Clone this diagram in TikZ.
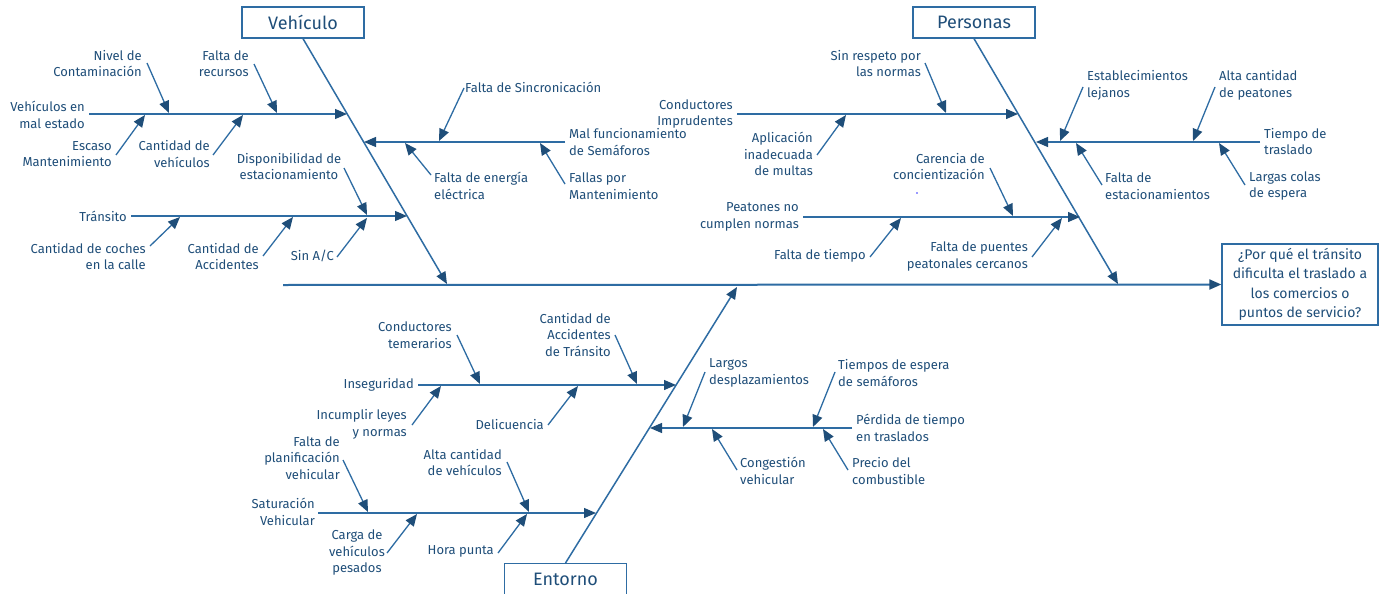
\documentclass[tikz,border=0pt]{standalone}
\usepackage{fontspec}
\setmainfont{Fira Sans}
\usetikzlibrary{arrows.meta}
\definecolor{txt}{RGB}{31,78,121}
\definecolor{ln}{RGB}{46,108,163}
\newcommand\subarrow[3]{\coordinate (#1s) at (#2); \coordinate (#1e) at (#3); \draw[arr] (#1s) -- (#1e);}
\begin{document}
\begin{tikzpicture}[x=1pt,y=-1pt,
  lbl/.style={font=\fontsize{13}{16.5}\selectfont, text=txt, inner sep=0pt},
  lblr/.style={lbl, align=right, anchor=east},
  lbll/.style={lbl, align=left, anchor=west},
  lblc/.style={lbl, align=center},
  cat/.style={draw=ln, line width=1.3pt, fill=white, text=txt, font=\fontsize{18}{22}\selectfont, minimum width=122pt, minimum height=31pt, inner sep=0pt},
  tip/.style={-{Triangle[length=12pt,width=10pt,color=txt]}},
  arr/.style={draw=ln, line width=1.3pt, tip},
  bone/.style={draw=ln, line width=1.5pt, tip},
]
\useasboundingbox (0,0) rectangle (1389,594);
\fill[white] (0,0) rectangle (1389,594);

% effect box
\node[draw=ln, line width=1.3pt, text=txt, font=\fontsize{14}{19.3}\selectfont, align=center, minimum width=156pt, minimum height=81pt, inner sep=0pt] (q) at (1300,284.5) {¿Por qué el tránsito\\dificulta el traslado a\\los comercios o\\puntos de servicio?};

% spine
\coordinate (sp0) at (283,285);
\draw[bone, line width=2pt] (sp0) -- (q.west);

% categories
\node[cat] (veh) at (303,22.5) {Vehículo};
\node[cat] (per) at (974,22.5) {Personas};
\node[cat, minimum height=34pt, anchor=north] (ent) at (565.5,563) {\raisebox{3pt}{Entorno}};

\coordinate (vb) at (447,284);
\coordinate (pb) at (1118,284);
\coordinate (eb) at (737,287);
\draw[bone] (veh.south) -- (vb);
\draw[bone] (per.south) -- (pb);
\draw[bone] (ent.north) -- (eb);

% ---------- Vehículo ----------
\coordinate (h1s) at (89,114);  \coordinate (h1e) at (347,114);
\coordinate (h2s) at (565,142); \coordinate (h2e) at (364,142);
\coordinate (h3s) at (131,216); \coordinate (h3e) at (407,216);
\draw[arr] (h1s) -- (h1e);
\draw[arr] (h2s) -- (h2e);
\draw[arr] (h3s) -- (h3e);

\node[lblr] (l1) at (85,115) {Vehículos en\\mal estado};
\node[lblr] (l2) at (142,63.5) {Nivel de\\Contaminación};
\node[lblr] (l3) at (249,63.5) {Falta de\\recursos};
\node[lblr] (l4) at (112,154) {Escaso\\Mantenimiento};
\node[lblr] (l5) at (210,154) {Cantidad de\\vehículos};
\node[lbll] (l6) at (569,142) {Mal funcionamiento\\de Semáforos};
\node[lbll] (l7) at (465,87) {Falta de Sincronicación};
\node[lbll] (l8) at (434,186) {Falta de energía\\eléctrica};
\node[lbll] (l9) at (569,186) {Fallas por\\Mantenimiento};
\node[lblr] (l10) at (127,216) {Tránsito};
\node[lblc] (l11) at (289,166.5) {Disponibilidad de\\estacionamiento};
\node[lblr] (l12) at (146,256.5) {Cantidad de coches\\en la calle};
\node[lblr] (l13) at (259,256.5) {Cantidad de\\Accidentes};
\node[lblr] (l14) at (334,256) {Sin A/C};

\subarrow{a1}{147,63}{169,113}
\subarrow{a2}{254,64}{277,113}
\subarrow{a3}{116,155}{145,115}
\subarrow{a4}{213,155}{243,115}
\subarrow{a5}{464,88}{439,141}
\subarrow{a6}{431,175}{405,143}
\subarrow{a7}{565,184}{540,143}
\subarrow{a8}{344,168}{367,215}
\subarrow{a9}{150,246}{180,217}
\subarrow{a10}{263,256}{293,217}
\subarrow{a11}{337,257}{367,218}

% ---------- Personas ----------
\coordinate (h4s) at (737,114);  \coordinate (h4e) at (1018,114);
\coordinate (h5s) at (1260,142); \coordinate (h5e) at (1036,142);
\coordinate (h6s) at (803,217);  \coordinate (h6e) at (1080,217);
\draw[arr] (h4s) -- (h4e);
\draw[arr] (h5s) -- (h5e);
\draw[arr] (h6s) -- (h6e);

\node[lblr] (m1) at (733,114) {Conductores\\Imprudentes};
\node[lblr] (m2) at (921,63.5) {Sin respeto por\\las normas};
\node[lblr] (m3) at (813,154) {Aplicación\\inadecuada\\de multas};
\node[lbll] (m4) at (1264,141.5) {Tiempo de\\traslado};
\node[lbll] (m5) at (1087,85.5) {Establecimientos\\lejanos};
\node[lbll] (m6) at (1219,85.5) {Alta cantidad\\de peatones};
\node[lbll] (m7) at (1105,186) {Falta de\\estacionamientos};
\node[lbll] (m8) at (1249,186) {Largas colas\\de espera};
\node[lblr] (m9) at (799,217) {Peatones no\\cumplen normas};
\node[lblr] (m10) at (985,166.5) {Carencia de\\concientización};
\node[lblr] (m11) at (866,256) {Falta de tiempo};
\node[lblr] (m12) at (1028,256.5) {Falta de puentes\\peatonales cercanos};
\fill[blue!80] (917,193) circle (0.9);

\subarrow{b1}{925,63}{946,113}
\subarrow{b2}{817,155}{846,115}
\subarrow{b3}{1083,87}{1060,141}
\subarrow{b4}{1215,87}{1193,141}
\subarrow{b5}{1102,185}{1076,143}
\subarrow{b6}{1245,185}{1219,143}
\subarrow{b7}{990,168}{1013,216}
\subarrow{b8}{870,257}{901,218}
\subarrow{b9}{1032,257}{1062,218}

% ---------- Entorno ----------
\coordinate (h7s) at (418,385); \coordinate (h7e) at (676,385);
\coordinate (h8s) at (852,428); \coordinate (h8e) at (650,428);
\coordinate (h9s) at (318,513); \coordinate (h9e) at (596,513);
\draw[arr] (h7s) -- (h7e);
\draw[arr] (h8s) -- (h8e);
\draw[arr] (h9s) -- (h9e);

\node[lblr] (n1) at (414,385) {Inseguridad};
\node[lblr] (n2) at (452,335) {Conductores\\temerarios};
\node[lblr] (n3) at (611,335) {Cantidad de\\Accidentes\\de Tránsito};
\node[lblr] (n4) at (407,424.5) {Incumplir leyes\\y normas};
\node[lblr] (n5) at (544,425) {Delicuencia};
\node[lbll] (n6) at (856,428) {Pérdida de tiempo\\en traslados};
\node[lbll] (n7) at (709,373) {Largos\\desplazamientos};
\node[lbll] (n8) at (838,373) {Tiempos de espera\\de semáforos};
\node[lbll] (n9) at (740,471) {Congestión\\vehicular};
\node[lbll] (n10) at (852,471) {Precio del\\combustible};
\node[lblr] (n11) at (315,512) {Saturación\\Vehicular};
\node[lblr] (n12) at (340,458) {Falta de\\planificación\\vehicular};
\node[lblr] (n13) at (502,462.5) {Alta cantidad\\de vehículos};
\node[lblc] (n14) at (357,553) {Carga de\\vehículos\\pesados};
\node[lblr] (n15) at (494,551) {Hora punta};

\subarrow{c1}{457,335}{480,384}
\subarrow{c2}{615,335}{637,384}
\subarrow{c3}{412,425}{441,386}
\subarrow{c4}{548,425}{578,386}
\subarrow{c5}{705,372}{683,427}
\subarrow{c6}{835,372}{813,427}
\subarrow{c7}{737,470}{712,429}
\subarrow{c8}{848,470}{823,429}
\subarrow{c9}{343,460}{368,512}
\subarrow{c10}{507,462}{529,512}
\subarrow{c11}{387,553}{417,514}
\subarrow{c12}{498,553}{527,514}
\end{tikzpicture}
\end{document}
